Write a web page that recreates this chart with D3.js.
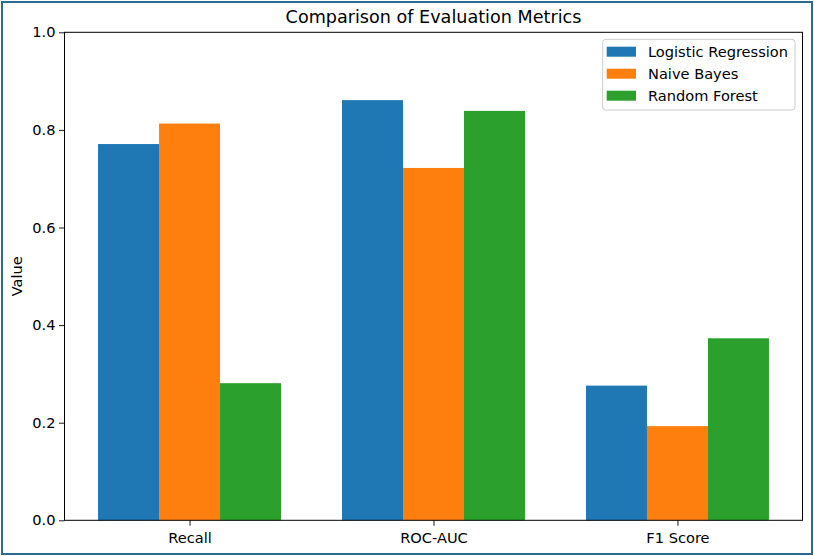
<!DOCTYPE html>
<html>
<head>
<meta charset="utf-8">
<script src="https://cdn.jsdelivr.net/npm/d3@7"></script>
<style>
  body { margin: 0; background: #fff; }
  svg { font-family: "DejaVu Sans", sans-serif; }
</style>
</head>
<body>
<div id="holder"></div>
<script>
const categories = ["Recall", "ROC-AUC", "F1 Score"];
const models = ["Logistic Regression", "Naive Bayes", "Random Forest"];
const logisticValues = [0.771, 0.861, 0.276];
const bayesValues = [0.813, 0.722, 0.193];
const forestValues = [0.281, 0.839, 0.373];
const yTicks = [0.0, 0.2, 0.4, 0.6, 0.8, 1.0];
const colors = ["#1f77b4", "#ff7f0e", "#2ca02c"];

const series = [logisticValues, bayesValues, forestValues];

const width = 814;
const height = 556;
const plotLeft = 64.5, plotRight = 802.5, plotTop = 32.3, plotBottom = 520.3;
const barWidth = 0.25;
const fontSize = 14.6;

const svg = d3.select("#holder")
    .append("svg")
    .attr("width", width)
    .attr("height", height);

// outer frame
svg.append("rect")
    .attr("x", 2).attr("y", 2)
    .attr("width", width - 4).attr("height", height - 4)
    .attr("fill", "white")
    .attr("stroke", "#2a6b94")
    .attr("stroke-width", 2);

const xScale = d3.scaleLinear()
    .domain([-0.5125, 2.5125])
    .range([plotLeft, plotRight]);
const yScale = d3.scaleLinear()
    .domain([0, 1])
    .range([plotBottom, plotTop]);

// bars
series.forEach((values, s) => {
    svg.append("g")
        .selectAll("rect")
        .data(values)
        .enter()
        .append("rect")
        .attr("x", (d, i) => xScale(i + (s - 1) * barWidth - barWidth / 2))
        .attr("width", xScale(barWidth) - xScale(0))
        .attr("y", (d) => yScale(d))
        .attr("height", (d) => yScale(0) - yScale(d))
        .attr("fill", colors[s]);
});

// axes
const xAxis = d3.axisBottom(xScale)
    .tickValues(d3.range(categories.length))
    .tickFormat((d) => categories[d])
    .tickSize(5.5)
    .tickSizeOuter(0)
    .tickPadding(6.5);
const yAxis = d3.axisLeft(yScale)
    .tickValues(yTicks)
    .tickFormat(d3.format(".1f"))
    .tickSize(5.5)
    .tickSizeOuter(0)
    .tickPadding(3.5);

const gx = svg.append("g")
    .attr("transform", `translate(0, ${plotBottom})`)
    .call(xAxis);
const gy = svg.append("g")
    .attr("transform", `translate(${plotLeft}, 0)`)
    .call(yAxis);

[gx, gy].forEach((g) => {
    g.select(".domain").remove();
    g.selectAll("text").attr("font-size", fontSize).attr("fill", "#000")
        .attr("font-family", "DejaVu Sans");
    g.selectAll("line").attr("stroke", "#000").attr("stroke-width", 0.9);
});

// plot frame (spines)
svg.append("rect")
    .attr("x", plotLeft).attr("y", plotTop)
    .attr("width", plotRight - plotLeft).attr("height", plotBottom - plotTop)
    .attr("fill", "none")
    .attr("stroke", "#000")
    .attr("stroke-width", 1);

// title and label
svg.append("text")
    .attr("x", (plotLeft + plotRight) / 2)
    .attr("y", 23.3)
    .attr("text-anchor", "middle")
    .attr("font-size", 17.6)
    .text("Comparison of Evaluation Metrics");

svg.append("text")
    .attr("transform", `translate(21.5, ${(plotTop + plotBottom) / 2}) rotate(-90)`)
    .attr("text-anchor", "middle")
    .attr("font-size", fontSize)
    .text("Value");

// legend
const legend = svg.append("g");
legend.append("rect")
    .attr("x", 602.7).attr("y", 39.3)
    .attr("width", 192.3).attr("height", 70.7)
    .attr("rx", 3)
    .attr("fill", "white")
    .attr("fill-opacity", 0.8)
    .attr("stroke", "#cccccc");

const rows = legend.selectAll("g.row")
    .data(models)
    .enter()
    .append("g")
    .attr("class", "row")
    .attr("transform", (d, i) => `translate(0, ${51.7 + i * 22})`);
rows.append("rect")
    .attr("x", 606.7).attr("y", -5)
    .attr("width", 29.3).attr("height", 10)
    .attr("fill", (d, i) => colors[i]);
rows.append("text")
    .attr("x", 648)
    .attr("y", 5.3)
    .attr("font-size", fontSize)
    .text((d) => d);
</script>
</body>
</html>
